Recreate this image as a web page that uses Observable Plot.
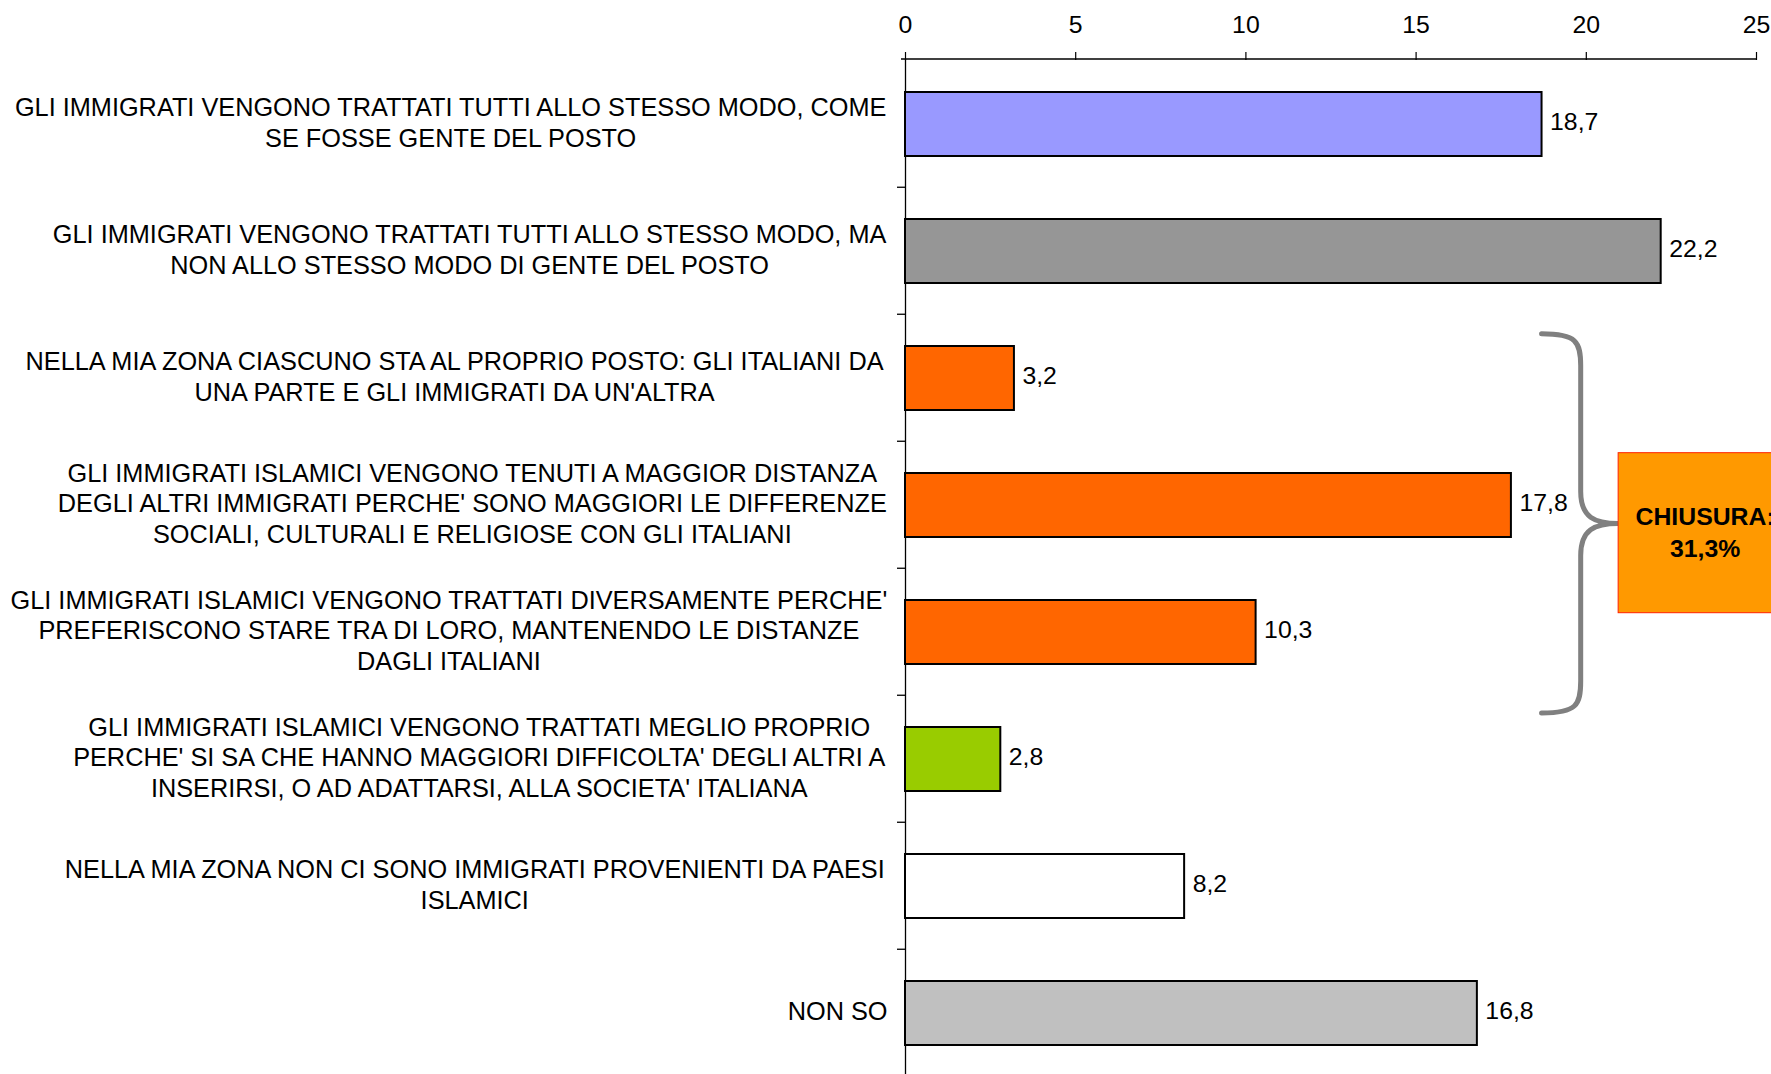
<!DOCTYPE html>
<html><head><meta charset="utf-8">
<script src="https://cdn.jsdelivr.net/npm/d3@7"></script>
<script src="https://cdn.jsdelivr.net/npm/@observablehq/plot@0.6"></script>
<style>html,body{margin:0;padding:0;background:#fff;overflow:hidden}</style>
</head><body><div id="chart"></div>
<script>
const categories = [
  "GLI IMMIGRATI VENGONO TRATTATI TUTTI ALLO STESSO MODO, COME\nSE FOSSE GENTE DEL POSTO",
  "GLI IMMIGRATI VENGONO TRATTATI TUTTI ALLO STESSO MODO, MA\nNON ALLO STESSO MODO DI GENTE DEL POSTO",
  "NELLA MIA ZONA CIASCUNO STA AL PROPRIO POSTO: GLI ITALIANI DA\nUNA PARTE E GLI IMMIGRATI DA UN'ALTRA",
  "GLI IMMIGRATI ISLAMICI VENGONO TENUTI A MAGGIOR DISTANZA\nDEGLI ALTRI IMMIGRATI PERCHE' SONO MAGGIORI LE DIFFERENZE\nSOCIALI, CULTURALI E RELIGIOSE CON GLI ITALIANI",
  "GLI IMMIGRATI ISLAMICI VENGONO TRATTATI DIVERSAMENTE PERCHE'\nPREFERISCONO STARE TRA DI LORO, MANTENENDO LE DISTANZE\nDAGLI ITALIANI",
  "GLI IMMIGRATI ISLAMICI VENGONO TRATTATI MEGLIO PROPRIO\nPERCHE' SI SA CHE HANNO MAGGIORI DIFFICOLTA' DEGLI ALTRI A\nINSERIRSI, O AD ADATTARSI, ALLA SOCIETA' ITALIANA",
  "NELLA MIA ZONA NON CI SONO IMMIGRATI PROVENIENTI DA PAESI\nISLAMICI",
  "NON SO"
];
const values = [18.7, 22.2, 3.2, 17.8, 10.3, 2.8, 8.2, 16.8];
const colors = ["#9999FF", "#969696", "#FF6600", "#FF6600", "#FF6600", "#99CC00", "#FFFFFF", "#C0C0C0"];
const xTicks = [0, 5, 10, 15, 20, 25];
const groupLabel = ["CHIUSURA:", "31,3%"];
const groupMembers = [2, 3, 4];

const FONT = "'Liberation Sans', Arial, sans-serif";
const FS = 24.8;
const LFS = 25.3;
const data = categories.map((c, i) => ({label: c, value: values[i], color: colors[i]}));
const fmt = v => v.toFixed(1).replace(".", ",");

const ctx = document.createElement("canvas").getContext("2d");
ctx.font = `${LFS}px 'Liberation Sans'`;
const maxW = l => d3.max(l.split("\n"), s => ctx.measureText(s).width);
const labelGap = 18;

const labelMarks = data.map(d => Plot.text([d], {
  x: () => 0, y: "label", text: "label", textAnchor: "middle", lineAnchor: "middle",
  lineHeight: 1.215, dx: -(labelGap + maxW(d.label) / 2), dy: -3, fontSize: LFS, fill: "black"
}));

const plot = Plot.plot({
  width: 1771,
  height: 1077,
  marginTop: 59,
  marginLeft: 905,
  marginRight: 15,
  marginBottom: 0,
  style: {fontFamily: FONT, fontSize: FS + "px", background: "white", overflow: "visible"},
  x: {domain: [0, 25], axis: null},
  y: {domain: categories, paddingInner: 0.5, paddingOuter: 0.25, axis: null},
  color: {type: "identity"},
  marks: [
    Plot.axisX(xTicks, {anchor: "top", tickSize: 8, tickPadding: 19, fontSize: FS, tickFormat: d => String(d), label: null, stroke: "black", fill: "black", strokeWidth: 1.2}),
    Plot.ruleX([0], {stroke: "black", strokeWidth: 1.3}),
    Plot.barX(data, {x: "value", y: "label", fill: "color", stroke: "black", strokeWidth: 2}),
    Plot.text(data, {x: "value", y: "label", text: d => fmt(d.value), textAnchor: "start", dx: 8, dy: -2, fontSize: FS, fill: "black"}),
    ...labelMarks
  ]
});

document.getElementById("chart").appendChild(plot);

const xs = plot.scale("x"), ys = plot.scale("y");
const X = v => xs.apply(v);
const step = ys.step;
const boundary = i => ys.apply(categories[0]) - step * 0.25 + i * step;
const svg = d3.select(plot);
const g = svg.append("g");

// top axis line
g.append("line").attr("x1", X(0) - 4).attr("x2", X(25)).attr("y1", 59).attr("y2", 59)
  .attr("stroke", "black").attr("stroke-width", 1.3);
// category ticks on y axis
for (let i = 1; i < categories.length; i++) {
  const yy = boundary(i);
  g.append("line").attr("x1", X(0) - 8).attr("x2", X(0)).attr("y1", yy).attr("y2", yy)
    .attr("stroke", "black").attr("stroke-width", 1.3);
}

// brace
const first = groupMembers[0], last = groupMembers[groupMembers.length - 1];
const yTop = boundary(first) + 0.154 * step;
const yBot = boundary(last + 1) + 0.14 * step;
const yMid = (yTop + yBot) / 2;
const tipX = X(18.7), spX = X(19.85), ptX = X(20.95);
const r = 32;
const p = d3.path();
p.moveTo(tipX, yTop);
p.bezierCurveTo(spX - 4, yTop, spX, yTop + 8, spX, yTop + r);
p.lineTo(spX, yMid - r);
p.bezierCurveTo(spX, yMid - 6, spX + 14, yMid, ptX, yMid);
p.bezierCurveTo(spX + 14, yMid, spX, yMid + 6, spX, yMid + r);
p.lineTo(spX, yBot - r);
p.bezierCurveTo(spX, yBot - 8, spX - 4, yBot, tipX, yBot);
g.append("path").attr("d", p.toString()).attr("fill", "none")
  .attr("stroke", "#808080").attr("stroke-width", 5).attr("stroke-linecap", "round");

// box
const boxTop = boundary(3) + 0.09 * step;
const boxH = 1.26 * step;
const bx0 = X(20.95), bx1 = X(26.06);
g.append("rect").attr("x", bx0).attr("y", boxTop).attr("width", bx1 - bx0).attr("height", boxH)
  .attr("fill", "#FF9900").attr("stroke", "#FF2200").attr("stroke-width", 1);
const cx = (bx0 + bx1) / 2, cy = boxTop + boxH / 2;
groupLabel.forEach((t, i) => {
  g.append("text").attr("x", cx).attr("y", cy + (i - 0.5) * 32).attr("dy", "0.35em")
    .attr("text-anchor", "middle").attr("font-weight", "bold").attr("font-size", FS)
    .attr("font-family", FONT).attr("fill", "black").text(t);
});
</script>
</body></html>
